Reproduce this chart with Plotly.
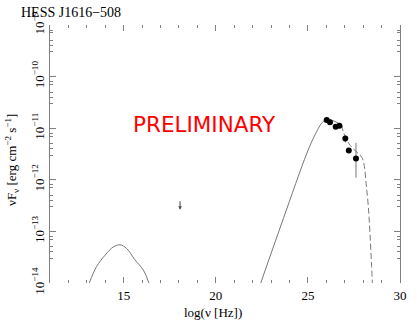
import numpy as np
import plotly.graph_objects as go

# synchrotron bump (log nu, log nuFnu)
sync_lognu = [13.13, 13.53, 13.99, 14.44, 14.80, 15.16, 15.61, 16.07, 16.37]
sync_logf = [-14.0, -13.68, -13.46, -13.30, -13.26, -13.33, -13.55, -13.75, -14.0]

# inverse compton, solid part
ic_lognu = [22.44, 23.67, 24.94, 25.40, 25.84, 26.20, 26.47, 26.84]
ic_logf = [-14.0, -12.75, -11.49, -11.12, -10.87, -10.84, -10.87, -10.94]

# inverse compton, dashed part (cutoff)
icd_lognu = [26.84, 26.92, 27.29, 27.65, 27.92, 28.05, 28.16, 28.28, 28.37, 28.46, 28.50]
icd_logf = [-10.94, -11.07, -11.33, -11.46, -11.56, -11.71, -12.07, -12.52, -13.04, -13.68, -14.0]

# HESS points
hess_lognu = [26.02, 26.20, 26.51, 26.71, 27.03, 27.22, 27.61]
hess_flux = [1.44e-11, 1.30e-11, 1.07e-11, 1.12e-11, 6.3e-12, 3.7e-12, 2.6e-12]
hess_err_up = [0, 0, 0, 0, 1.0e-12, 0, 2.6e-12]
hess_err_lo = [0, 0, 0, 0, 1.0e-12, 0, 1.5e-12]

# upper limit
ul_lognu = 18.06
ul_flux = 4.1e-13

line_col = "#777777"
axis_col = "#808080"
serif = "Liberation Serif"


# plot area in window pixels: x 50..400, y 25..283
def px(x):
    return (x - 50) / 350


def py(y):
    return (283 - y) / 258


def label(text, x, y, size, **kw):
    fig.add_annotation(text=text, x=px(x), y=py(y), xref="paper", yref="paper",
                       xanchor="center", yanchor="middle", showarrow=False,
                       font=dict(family=kw.pop("family", serif), size=size,
                                 color=kw.pop("color", "black")), **kw)


fig = go.Figure()
fig.add_trace(go.Scatter(x=sync_lognu, y=10 ** np.array(sync_logf), mode="lines",
                         line=dict(color=line_col, width=1, shape="spline")))
fig.add_trace(go.Scatter(x=ic_lognu, y=10 ** np.array(ic_logf), mode="lines",
                         line=dict(color=line_col, width=1, shape="spline")))
fig.add_trace(go.Scatter(x=icd_lognu, y=10 ** np.array(icd_logf), mode="lines",
                         line=dict(color=line_col, width=1, shape="spline", dash="6px,3px")))
fig.add_trace(go.Scatter(x=hess_lognu, y=hess_flux, mode="markers",
                         marker=dict(color="black", size=6),
                         error_y=dict(type="data", symmetric=False, array=hess_err_up,
                                      arrayminus=hess_err_lo, width=0, color=line_col, thickness=1)))

fig.add_annotation(x=ul_lognu, y=np.log10(ul_flux), xref="x", yref="y", ax=0, ay=-10,
                   yshift=-10, text="", showarrow=True, arrowhead=2, arrowsize=0.7,
                   arrowwidth=1, arrowcolor="#444444")

label("PRELIMINARY", 204, 124, 21.5, family="DejaVu Sans", color="red")
label("HESS J1616−508", 71, 13, 14)
label("log(ν [Hz])", 213, 312, 13)
label("νF<sub>ν</sub> [erg cm<sup>−2</sup> s<sup>−1</sup>]", 12, 160, 13, textangle=-90)

decades = [1e-14, 1e-13, 1e-12, 1e-11, 1e-10, 1e-9]
dec_text = ["10<sup>−14</sup>", "10<sup>−13</sup>", "10<sup>−12</sup>",
            "10<sup>−11</sup>", "10<sup>−10</sup>", "10<sup>−9</sup>"]
minor_vals = [d * k for d in decades[:-1] for k in (3, 4, 5, 7, 8)]

fig.update_layout(
    width=417, height=321,
    margin=dict(l=50, r=17, t=25, b=38),
    paper_bgcolor="white", plot_bgcolor="white",
    showlegend=False,
    font=dict(family=serif, size=13, color="black"),
    xaxis=dict(range=[11, 30], tick0=0, dtick=5, ticks="inside", ticklen=6,
               tickcolor=axis_col, showline=False, mirror="ticks", showgrid=False,
               zeroline=False, automargin=False, ticklabelstandoff=3,
               tickfont=dict(family=serif, size=13),
               minor=dict(dtick=1, tick0=0, ticks="inside", ticklen=3, tickcolor=axis_col)),
    yaxis=dict(type="log", range=[-14, -9], tickvals=decades, ticktext=dec_text,
               tickangle=-90, ticks="inside", ticklen=6, tickcolor=axis_col,
               showline=True, linecolor=axis_col, linewidth=1, mirror="ticks",
               showgrid=False, zeroline=False, automargin=False,
               tickfont=dict(family=serif, size=13),
               minor=dict(tickvals=minor_vals, ticks="inside", ticklen=3, tickcolor=axis_col)),
)

# drop the browser's default 8px body margin so the figure sits at the window corner
fig.write_html("out.html", config={"displayModeBar": False},
               post_script="document.body.style.margin = '0';")
